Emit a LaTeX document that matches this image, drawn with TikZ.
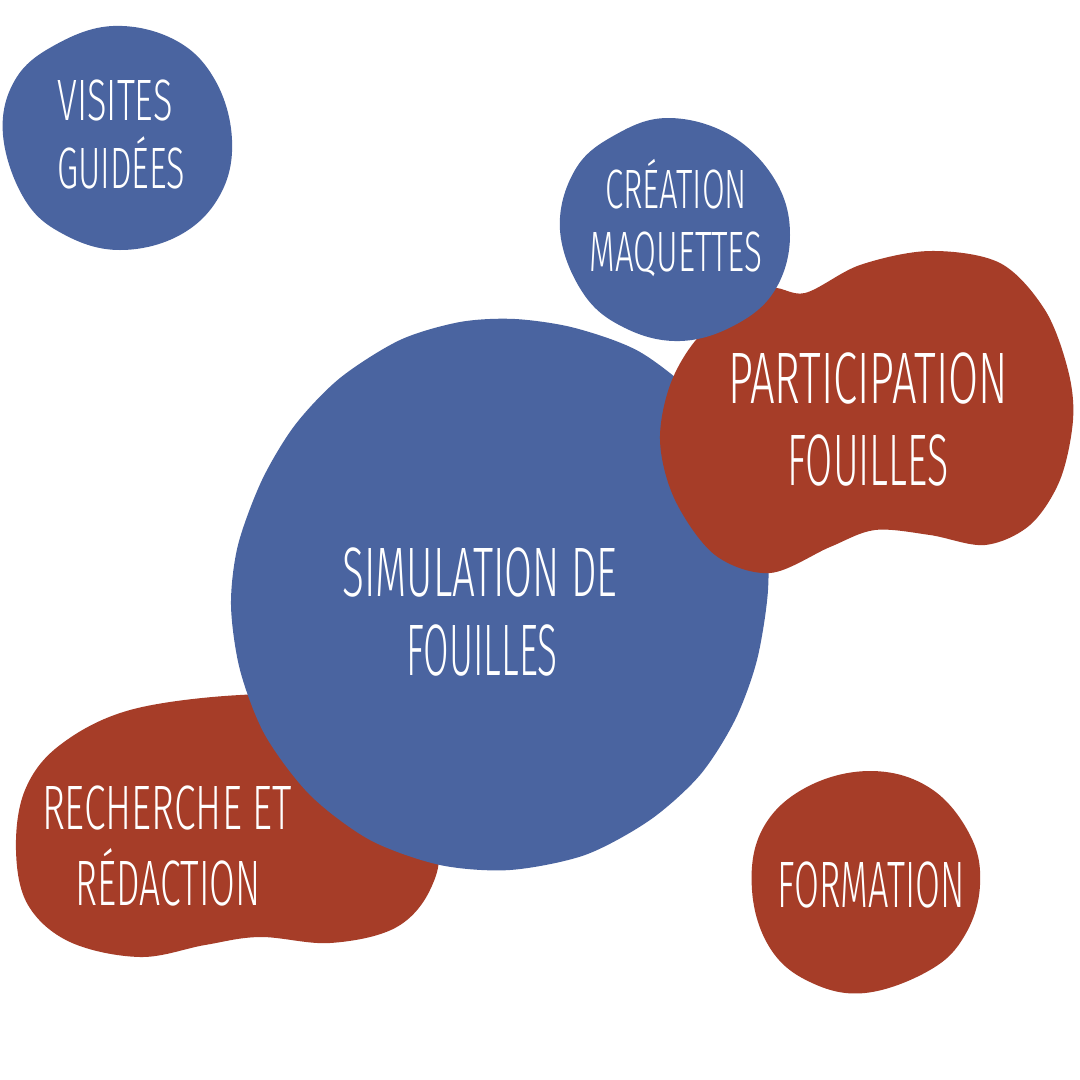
\documentclass[tikz,border=0pt]{standalone}
\usepackage{fontspec}
\usepackage{graphicx}
\newfontfamily\handfont{Fira Sans Light}
\definecolor{blobblue}{HTML}{4A64A0}
\definecolor{blobred}{HTML}{A63D28}
% one line of label text, set to a given width and capital height
\newcommand\fitlbl[3]{\begingroup\sbox0{\handfont\fontsize{60}{60}\selectfont #3}\sbox2{\handfont\fontsize{60}{60}\selectfont X}\ht0=\ht2 \dp0=0pt \resizebox{#1}{#2}{\usebox0}\endgroup}
\tikzset{
  blueblob/.style={fill=blobblue, draw=none},
  redblob/.style={fill=blobred, draw=none},
  lbl/.style={text=white, inner sep=0pt, anchor=center}
}
\begin{document}
\begin{tikzpicture}[x=1pt,y=-1pt]
\useasboundingbox (0,0) rectangle (1080,1080);
\fill[white] (0,0) rectangle (1080,1080);

% Recherche et redaction
\path[redblob] plot[smooth cycle, tension=0.6] coordinates {
 (240,695) (130,710) (60,745) (25,790) (16,850) (28,905) (70,942) (140,957)
 (205,945) (260,937) (330,943) (395,928) (430,890) (437,840) (400,760) (320,700)};

% Simulation de fouilles
\path[blueblob] plot[smooth cycle, tension=0.5] coordinates {
 (515,319) (575,328) (640,352) (700,400) (740,460) (765,530) (768,590)
 (757,660) (735,720) (700,775) (650,820) (585,855) (510,870) (440,865)
 (370,840) (310,795) (265,735) (240,670) (231,605) (238,545) (262,480)
 (295,425) (340,378) (400,340) (460,322)};

% Participation fouilles
\path[redblob] plot[smooth cycle, tension=0.55] coordinates {
 (765,289) (805,293) (860,265) (930,251) (1000,263) (1045,310) (1068,370)
 (1073,420) (1060,480) (1030,525) (985,545) (930,535) (875,530) (830,547)
 (770,573) (715,555) (675,500) (660,440) (672,380) (705,330)};

% Creation maquettes
\path[blueblob] plot[smooth cycle, tension=0.65] coordinates {
 (668,118) (730,135) (775,180) (790,235) (775,290) (735,325) (680,341)
 (625,328) (583,293) (560,230) (575,170) (615,135)};

% Visites guidees
\path[blueblob] plot[smooth cycle, tension=0.65] coordinates {
 (113,26) (175,40) (215,80) (232,140) (220,195) (180,235) (120,250)
 (65,235) (25,200) (3,135) (15,80) (55,45)};

% Formation
\path[redblob] plot[smooth cycle, tension=0.65] coordinates {
 (870,771) (930,788) (970,835) (980,885) (965,935) (930,970) (865,993)
 (810,982) (770,948) (752,890) (762,830) (805,788)};

% labels
\node[lbl] (vis1) at (115,100) {\fitlbl{115pt}{40pt}{VISITES}};
\node[lbl] (vis2) at (121,168) {\fitlbl{128pt}{40pt}{GUIDÉES}};
\node[lbl] (cre1) at (676,189) {\fitlbl{142pt}{38pt}{CRÉATION}};
\node[lbl] (cre2) at (676,252) {\fitlbl{173pt}{39pt}{MAQUETTES}};
\node[lbl] (par1) at (868,378) {\fitlbl{280pt}{50pt}{PARTICIPATION}};
\node[lbl] (par2) at (868,460) {\fitlbl{161pt}{50pt}{FOUILLES}};
\node[lbl] (sim1) at (480,572) {\fitlbl{275pt}{48pt}{SIMULATION DE}};
\node[lbl] (sim2) at (482,650) {\fitlbl{151pt}{50pt}{FOUILLES}};
\node[lbl] (rec1) at (167,808) {\fitlbl{250pt}{43pt}{RECHERCHE ET}};
\node[lbl] (rec2) at (168,883) {\fitlbl{185pt}{44pt}{RÉDACTION}};
\node[lbl] (for1) at (871,885) {\fitlbl{187pt}{45pt}{FORMATION}};
\end{tikzpicture}
\end{document}
